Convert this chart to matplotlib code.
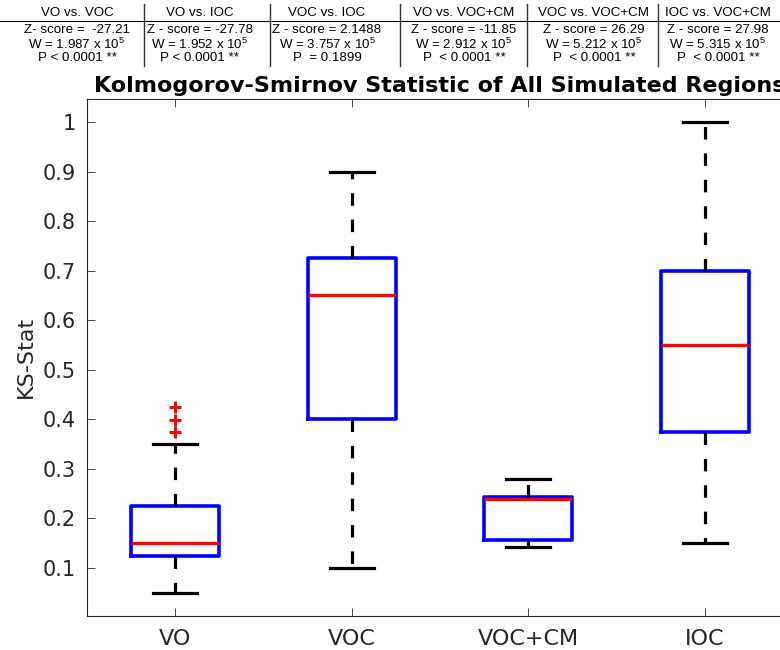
import matplotlib
matplotlib.use("Agg")
import matplotlib.pyplot as plt

# box plot summary values
groups = ["VO", "VOC", "VOC+CM", "IOC"]
q1 = [0.125, 0.40, 0.157, 0.375]
medians = [0.15, 0.65, 0.239, 0.55]
q3 = [0.225, 0.725, 0.243, 0.70]
whisk_lo = [0.05, 0.10, 0.142, 0.15]
whisk_hi = [0.35, 0.90, 0.280, 1.00]
fliers = [[0.374, 0.399, 0.424], [], [], []]

# comparison table above the plot
comparisons = ["VO vs. VOC", "VO vs. IOC", "VOC vs. IOC",
               "VO vs. VOC+CM", "VOC vs. VOC+CM", "IOC vs. VOC+CM"]
z_scores = ["Z- score =  -27.21", "Z - score = -27.78", "Z - score = 2.1488",
            "Z - score = -11.85", "Z - score = 26.29", "Z - score = 27.98"]
w_values = ["1.987", "1.952", "3.757", "2.912", "5.212", "5.315"]
p_values = ["P < 0.0001 **", "P < 0.0001 **", "P  = 0.1899",
            "P  < 0.0001 **", "P  < 0.0001 **", "P  < 0.0001 **"]

plt.rcParams["lines.scale_dashes"] = False
plt.rcParams["mathtext.fontset"] = "custom"
plt.rcParams["mathtext.rm"] = "Liberation Sans"

fig = plt.figure(figsize=(7.8, 6.5), dpi=100)
ax = fig.add_axes([0.1115, 0.0523, 0.905, 0.7957])

stats = []
for i in range(len(groups)):
    stats.append({"label": groups[i], "q1": q1[i], "med": medians[i], "q3": q3[i],
                  "whislo": whisk_lo[i], "whishi": whisk_hi[i], "fliers": fliers[i]})

ax.bxp(stats, widths=0.5, showfliers=True,
       boxprops=dict(color="blue", linewidth=2.6),
       medianprops=dict(color="red", linewidth=2.4),
       whiskerprops=dict(color="black", linewidth=2.3, linestyle=(0, (9, 10))),
       capprops=dict(color="black", linewidth=2.3),
       capwidths=0.25,
       flierprops=dict(marker="+", markeredgecolor="red", markersize=9, markeredgewidth=2.2))

ax.set_xlim(0.5, 4.5)
ax.set_ylim(0.003, 1.047)
ax.set_yticks([0.1, 0.2, 0.3, 0.4, 0.5, 0.6, 0.7, 0.8, 0.9, 1.0])
ax.set_yticklabels(["0.1", "0.2", "0.3", "0.4", "0.5", "0.6", "0.7", "0.8", "0.9", "1"])
ax.tick_params(direction="in", top=True, right=True, colors="#262626",
               length=6, width=0.6, pad=8)
ax.tick_params(axis="y", labelsize=15)
ax.tick_params(axis="x", labelsize=16, pad=9)
for s in ax.spines.values():
    s.set_color("#262626")
    s.set_linewidth(0.8)
ax.set_ylabel("KS-Stat", fontsize=16, color="#262626")
ax.yaxis.set_label_coords(-0.073, 0.5)
ax.set_title("Kolmogorov-Smirnov Statistic of All Simulated Regions",
             fontsize=16, fontweight="bold", pad=5)

# table text, in figure pixel coordinates
col_x = [77, 200, 327, 464, 594, 718]
sep_x = [144, 270, 400, 527, 658]
W, H = 780, 650
tf = dict(fontsize=9.6, family="Liberation Sans", ha="center", va="center")
for i in range(len(comparisons)):
    x = col_x[i] / W
    fig.text(x, 1 - 13 / H, comparisons[i], **tf)
    fig.text(x, 1 - 30 / H, z_scores[i], **tf)
    fig.text(x, 1 - 44 / H, "W = " + w_values[i] + r" x 10$^5$", **tf)
    fig.text(x, 1 - 58 / H, p_values[i], **tf)
fig.add_artist(plt.Line2D([0, 1], [1 - 20.5 / H] * 2, color="black", lw=0.8,
                          transform=fig.transFigure))
for sx in sep_x:
    fig.add_artist(plt.Line2D([sx / W] * 2, [1 - 4 / H, 1 - 66 / H], color="#333333",
                              lw=1.0, transform=fig.transFigure))

fig.savefig("out.png", dpi=100)
